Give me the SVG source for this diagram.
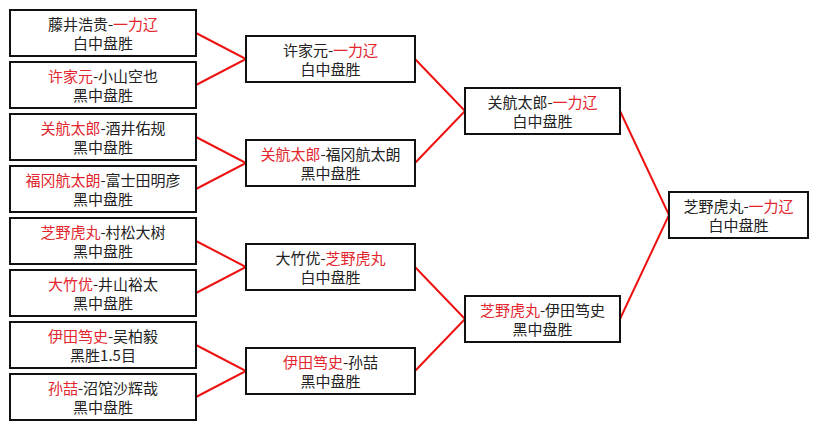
<svg xmlns="http://www.w3.org/2000/svg" width="818" height="429" viewBox="0 0 818 429">
<style>
.b{fill:#fff;stroke:#111;stroke-width:2}
.t{font-family:"Noto Sans CJK SC","Noto Sans",sans-serif;font-size:15px;fill:#222;text-anchor:middle}
.r{fill:#e3262e}
.c{stroke:#ee1111;stroke-width:2;fill:none}
</style>
<rect width="818" height="429" fill="#fff"/>
<g id="connectors">
<path class="c" d="M196 33L246 59L196 85"/>
<path class="c" d="M196 137L246 163L196 189"/>
<path class="c" d="M196 241L246 267L196 293"/>
<path class="c" d="M196 345L246 371L196 397"/>
<path class="c" d="M415 59L465 111L415 163"/>
<path class="c" d="M415 267L465 319L415 371"/>
<path class="c" d="M620 111L669 215L620 319"/>
</g>
<g id="r1a"><rect class="b" x="10" y="10" width="186" height="46"/><text class="t" x="103" y="30">藤井浩贵-<tspan class="r">一力辽</tspan></text><text class="t" x="103" y="49">白中盘胜</text></g>
<g id="r1b"><rect class="b" x="10" y="62" width="186" height="46"/><text class="t" x="103" y="82"><tspan class="r">许家元</tspan>-小山空也</text><text class="t" x="103" y="101">黑中盘胜</text></g>
<g id="r1c"><rect class="b" x="10" y="114" width="186" height="46"/><text class="t" x="103" y="134"><tspan class="r">关航太郎</tspan>-酒井佑规</text><text class="t" x="103" y="153">黑中盘胜</text></g>
<g id="r1d"><rect class="b" x="10" y="166" width="186" height="46"/><text class="t" x="103" y="186"><tspan class="r">福冈航太朗</tspan>-富士田明彦</text><text class="t" x="103" y="205">黑中盘胜</text></g>
<g id="r1e"><rect class="b" x="10" y="218" width="186" height="46"/><text class="t" x="103" y="238"><tspan class="r">芝野虎丸</tspan>-村松大树</text><text class="t" x="103" y="257">黑中盘胜</text></g>
<g id="r1f"><rect class="b" x="10" y="270" width="186" height="46"/><text class="t" x="103" y="290"><tspan class="r">大竹优</tspan>-井山裕太</text><text class="t" x="103" y="309">黑中盘胜</text></g>
<g id="r1g"><rect class="b" x="10" y="322" width="186" height="46"/><text class="t" x="103" y="342"><tspan class="r">伊田笃史</tspan>-吴柏毅</text><text class="t" x="103" y="361">黑胜1.5目</text></g>
<g id="r1h"><rect class="b" x="10" y="374" width="186" height="46"/><text class="t" x="103" y="394"><tspan class="r">孙喆</tspan>-沼馆沙辉哉</text><text class="t" x="103" y="413">黑中盘胜</text></g>
<g id="r2a"><rect class="b" x="246" y="36" width="169" height="46"/><text class="t" x="330.5" y="56">许家元-<tspan class="r">一力辽</tspan></text><text class="t" x="330.5" y="75">白中盘胜</text></g>
<g id="r2b"><rect class="b" x="246" y="140" width="169" height="46"/><text class="t" x="330.5" y="160"><tspan class="r">关航太郎</tspan>-福冈航太朗</text><text class="t" x="330.5" y="179">黑中盘胜</text></g>
<g id="r2c"><rect class="b" x="246" y="244" width="169" height="46"/><text class="t" x="330.5" y="264">大竹优-<tspan class="r">芝野虎丸</tspan></text><text class="t" x="330.5" y="283">白中盘胜</text></g>
<g id="r2d"><rect class="b" x="246" y="348" width="169" height="46"/><text class="t" x="330.5" y="368"><tspan class="r">伊田笃史</tspan>-孙喆</text><text class="t" x="330.5" y="387">黑中盘胜</text></g>
<g id="r3a"><rect class="b" x="465" y="88" width="155" height="46"/><text class="t" x="542.5" y="108">关航太郎-<tspan class="r">一力辽</tspan></text><text class="t" x="542.5" y="127">白中盘胜</text></g>
<g id="r3b"><rect class="b" x="465" y="296" width="155" height="46"/><text class="t" x="542.5" y="316"><tspan class="r">芝野虎丸</tspan>-伊田笃史</text><text class="t" x="542.5" y="335">黑中盘胜</text></g>
<g id="final"><rect class="b" x="669" y="192" width="139" height="46"/><text class="t" x="738.5" y="212">芝野虎丸-<tspan class="r">一力辽</tspan></text><text class="t" x="738.5" y="231">白中盘胜</text></g>
</svg>
